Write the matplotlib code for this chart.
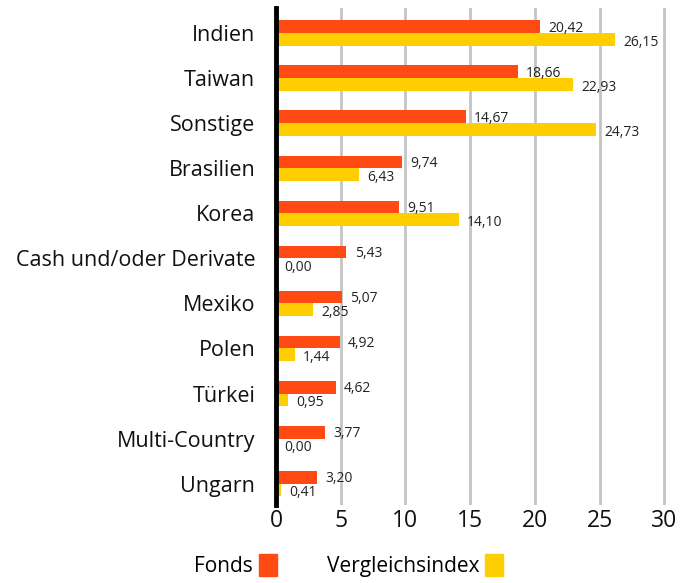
import matplotlib
matplotlib.use("Agg")
import matplotlib.pyplot as plt
from matplotlib.patches import Patch
import numpy as np

categories = ["Indien", "Taiwan", "Sonstige", "Brasilien", "Korea",
              "Cash und/oder Derivate", "Mexiko", "Polen", "Türkei",
              "Multi-Country", "Ungarn"]
fonds = [20.42, 18.66, 14.67, 9.74, 9.51, 5.43, 5.07, 4.92, 4.62, 3.77, 3.20]
index = [26.15, 22.93, 24.73, 6.43, 14.10, 0.00, 2.85, 1.44, 0.95, 0.00, 0.41]
series_names = ["Fonds", "Vergleichsindex"]
xticks = [0, 5, 10, 15, 20, 25, 30]

RED = "#FF4A14"
YEL = "#FFCE00"

plt.rcParams['font.family'] = ['Open Sans', 'DejaVu Sans']

fig = plt.figure(figsize=(6.9, 5.83), dpi=100)
ax = fig.add_axes([0.4, 0.134, 0.5667, 0.852])

y = np.arange(len(categories))
h = 0.28
ax.barh(y - h/2, fonds, height=h, color=RED, zorder=3, label=series_names[0])
ax.barh(y + h/2, index, height=h, color=YEL, zorder=3, label=series_names[1])

def fmt(v):
    return f"{v:.2f}".replace(".", ",")

for yi, f, v in zip(y, fonds, index):
    ax.annotate(fmt(f), (f, yi - h/2), xytext=(6, -1), textcoords="offset points",
                va="center", ha="left", fontsize=10, color="#222222")
    ax.annotate(fmt(v), (v, yi + h/2), xytext=(6, -2), textcoords="offset points",
                va="center", ha="left", fontsize=10, color="#222222")

ax.set_ylim(len(categories) - 1 + 0.47, -0.55)
ax.set_xlim(0, 30.2)
ax.set_yticks(y)
ax.set_yticklabels(categories, fontsize=15.5, color="#111111")
ax.set_xticks(xticks)
ax.set_xticklabels([str(t) for t in xticks], fontsize=16.5, color="#111111")
ax.tick_params(axis="y", length=0, pad=15)
ax.tick_params(axis="x", length=0, pad=3)

ax.grid(axis="x", color="#c4c4c4", linewidth=2, zorder=0)
ax.grid(axis="y", visible=False)
for s in ["top", "right", "bottom"]:
    ax.spines[s].set_visible(False)
ax.spines["left"].set_linewidth(3.5)
ax.spines["left"].set_color("black")
ax.spines["left"].set_zorder(4)

handles = [Patch(color=RED), Patch(color=YEL)]
fig.legend(handles, series_names, loc="lower center", bbox_to_anchor=(0.505, -0.022),
           ncol=2, frameon=False, markerfirst=False, fontsize=15,
           handlelength=0.85, handleheight=1.2, handletextpad=0.3, columnspacing=2.4)

fig.savefig("out.png", dpi=100)
